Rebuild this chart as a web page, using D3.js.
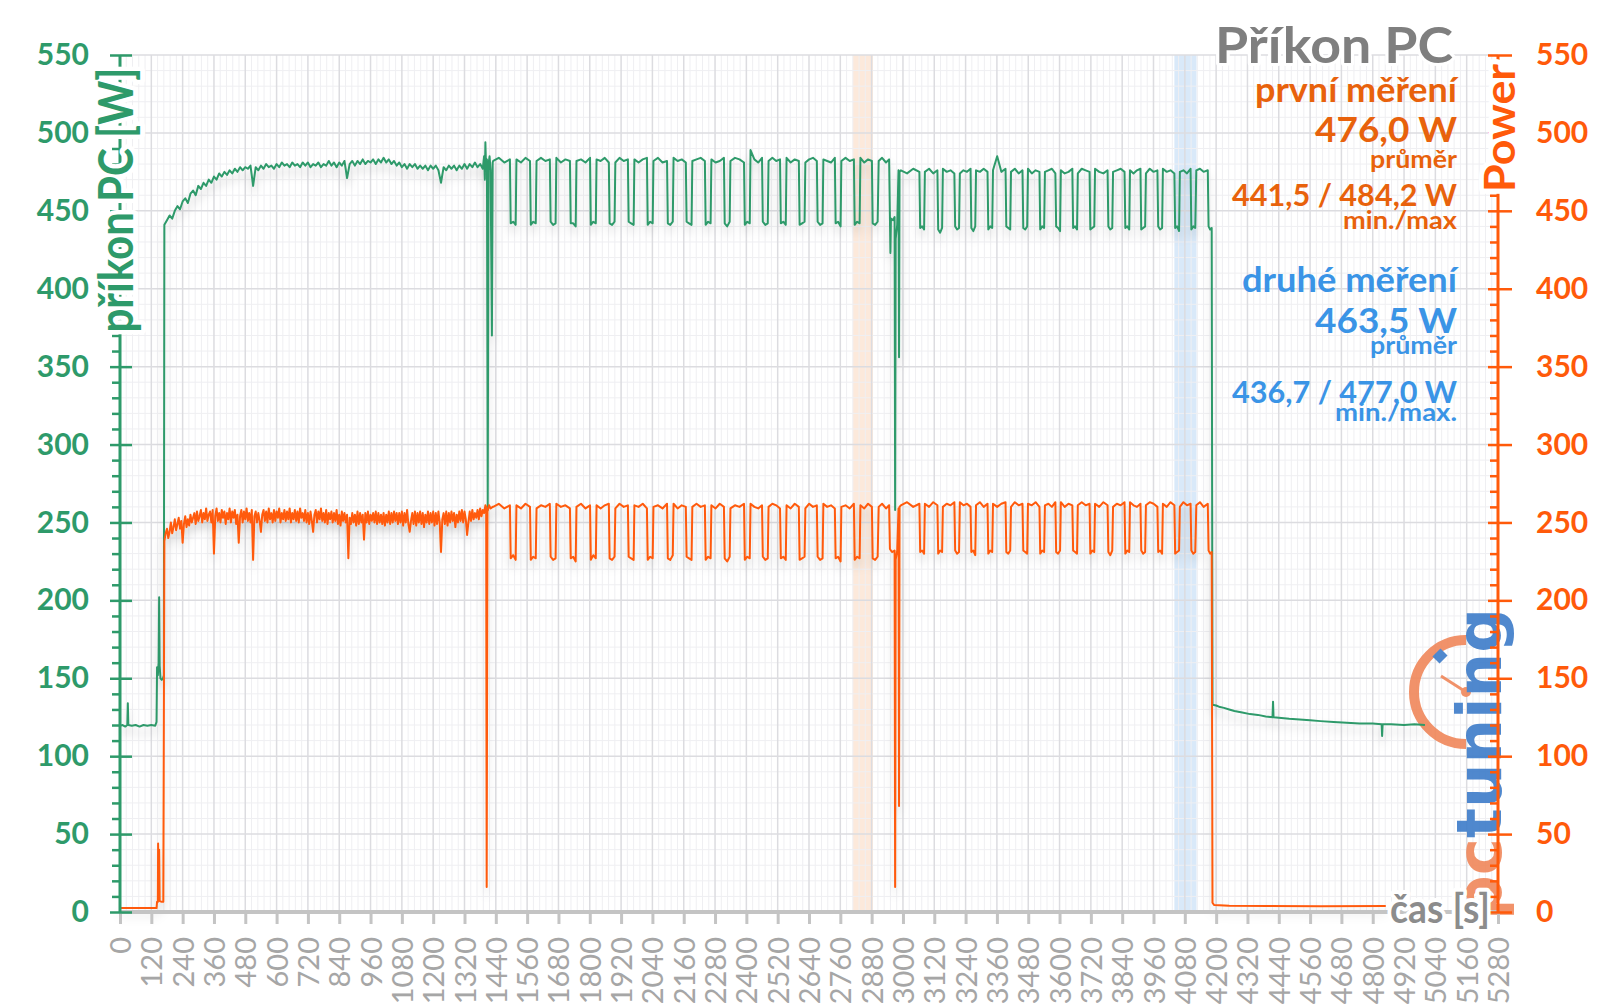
<!DOCTYPE html>
<html><head><meta charset="utf-8">
<script src="https://cdn.jsdelivr.net/npm/d3@7"></script>
<style>body{margin:0;background:#fff;}svg{display:block;}</style>
</head><body>
<svg id="c" width="1600" height="1008"></svg>
<script>
// ---------------- DATA ----------------
const xTickValues = [0,120,240,360,480,600,720,840,960,1080,1200,1320,1440,1560,1680,1800,1920,2040,2160,2280,2400,2520,2640,2760,2880,3000,3120,3240,3360,3480,3600,3720,3840,3960,4080,4200,4320,4440,4560,4680,4800,4920,5040,5160,5280];
const yTickValues = [0,50,100,150,200,250,300,350,400,450,500,550];
const bandFirst = [2808, 2885];
const bandSecond = [4040, 4125];

// idle start [time s, W]
const greenStart = [[0,119.5],[10,120],[20,119],[28,120],[30,134],[32,120],[45,119.5],[60,120],[75,119],[90,120],[105,119.5],[120,120],[135,119.5],[140,122],[142,157],[145,152],[148,160],[150,202],[152,158],[155,150],[160,149],[165,150],[168,152]];
const orangeStart = [[0,2.5],[60,2.5],[140,2.5],[142,6.5],[145,6.5],[146,44],[148,8],[150,40],[152,7],[160,6.5],[166,6.5]];

// warm-up phase, green one reading every 10 s, orange every 5 s, both from 170 s
const warmStart = 170, greenWarmStep = 10, orangeWarmStep = 5;
const greenWarm = [441,444,447,445,450,453,451,456,458,455,
 461,463,460,466,464,468,466,470,468,472,
 470,474,472,475,473,476,474,477,475,478,
 476,478,477,479,466,478,476,479,477,480,
 478,479,477,480,478,481,479,480,478,481,
 479,480,478,481,479,481,478,480,479,481,
 478,480,479,482,479,481,478,481,479,482,
 471,480,482,479,482,480,483,480,482,481,
 483,480,483,481,484,481,483,480,482,479,
 481,478,480,477,480,478,480,477,479,477,
 479,476,479,477,479,476,468,478,476,479,
 477,479,476,479,477,480,477,480,478,481,
 478,480,477];
const orangeWarm = [238,243,246,240,244,250,243,247,252,245,249,253,
 246,251,237,249,254,247,252,248,255,250,253,256,
 249,257,251,254,258,250,256,252,259,251,255,257,
 250,258,230,254,259,251,256,250,258,253,257,249,
 256,252,259,250,257,253,258,249,255,237,254,258,
 250,257,252,259,251,256,250,258,226,254,257,250,
 256,251,244,255,258,251,257,250,259,252,256,250,
 258,251,257,253,259,250,256,252,258,251,257,252,
 259,250,256,252,258,251,257,250,259,253,256,251,
 258,250,256,249,257,251,244,255,258,250,257,252,
 259,251,256,250,258,249,256,252,257,250,256,251,
 258,249,255,248,257,251,256,250,255,227,253,249,
 256,250,255,248,257,249,256,250,255,239,256,250,
 257,249,255,251,256,250,257,249,256,250,255,249,
 256,248,255,250,257,249,256,250,257,251,256,249,
 256,250,257,248,256,250,258,249,244,251,256,249,
 257,248,256,250,257,249,256,247,255,250,257,249,
 256,250,257,248,256,249,257,250,231,252,256,249,
 257,248,256,250,257,251,256,247,255,250,257,251,
 258,250,257,252,242,250,257,251,258,252,256,253,
 258,252,259,254,258,256,261];

// first disturbance
const greenDisturb1 = [[1395,485],[1398,470],[1400,494],[1403,476],[1406,483],[1409,258],[1412,480],[1416,485],[1420,476],[1425,370],[1428,481]];
const orangeDisturb1 = [[1403,260],[1405,16],[1408,257],[1414,261],[1420,259],[1428,260]];

// first cyclic phase
const phase1Start = 1428;
const dipStart1 = [1495,1572,1648,1725,1802,1874,1947,2020,2097,2169,2242,2315,2392,2461,2530,2602,2671,2740,2813,2882];
const dipEnd1   = [1517,1594,1670,1747,1824,1896,1969,2042,2119,2191,2264,2337,2414,2483,2552,2624,2693,2762,2835,2904];
const greenHigh1 = [[482,484,481,483],[483,481,484,482],[482,484,482,483],[484,481,483,482],[482,483,481,484],[483,482,484,481],[481,484,482,483],[483,481,483,484],[482,484,481,482],[484,482,483,481],[482,483,484,482],[483,481,482,484],[482,484,483,481],[489,483,481,484],[482,484,482,483],[484,481,483,482],[481,483,484,482],[483,482,481,484],[482,484,482,483],[484,481,483,482]];
const greenLow1 = [[442,443,441],[441,443,442],[443,441,442],[442,442,440],[441,443,442],[442,441,443],[443,442,441],[441,443,442],[442,441,443],[443,442,441],[441,443,442],[442,440,443],[441,443,442],[443,441,442],[442,443,441],[441,442,443],[443,441,442],[442,443,440],[441,443,442],[442,441,443]];
const orangeHigh1 = [[260,262,259,261],[261,259,262,260],[259,261,260,262],[262,260,261,259],[260,262,259,261],[261,259,261,262],[259,262,260,261],[261,260,262,259],[260,261,259,262],[262,259,261,260],[260,262,260,261],[261,259,262,260],[259,261,260,262],[262,260,259,261],[260,262,261,259],[261,259,262,260],[259,262,260,261],[262,260,261,259],[260,261,259,262],[261,259,262,260]];
const orangeLow1 = [[227,229,226],[226,228,227],[228,226,227],[227,228,225],[226,229,227],[227,226,228],[228,227,226],[226,228,227],[227,226,229],[228,227,226],[226,228,227],[227,225,228],[226,228,227],[228,226,227],[227,228,226],[226,227,228],[228,226,227],[227,228,225],[226,228,227],[227,226,228]];

// transition between phases
const greenTrans = [[2907,482],[2920,484],[2935,481],[2947,483],[2950,446],[2952,423],[2954,445],[2962,444],[2968,446],[2970,258],[2972,432],[2978,441],[2983,476],[2985,356],[2987,475]];
const orangeTrans = [[2907,260],[2920,262],[2935,259],[2947,261],[2950,233],[2958,231],[2968,232],[2970,16],[2972,226],[2978,232],[2983,259],[2985,68],[2987,260]];

// second cyclic phase
const phase2Start = 2990;
const dipStart2 = [3064,3133,3198,3260,3325,3394,3459,3524,3585,3650,3716,3785,3850,3911,3976,4041,4103];
const dipEnd2   = [3082,3151,3216,3278,3343,3412,3477,3542,3603,3668,3734,3803,3868,3929,3994,4059,4121];
const greenHigh2 = [[476,474,477,475],[475,477,474,476],[477,475,476,474],[474,476,475,477],[476,475,477,475],[476,485,475,477],[475,477,474,476],[477,474,476,475],[475,476,477,474],[476,474,475,477],[474,477,476,475],[477,475,474,476],[475,476,477,475],[476,474,476,477],[474,477,475,476],[477,475,476,474],[475,476,474,477]];
const greenLow2 = [[439,440,438],[438,436,439],[440,438,439],[439,437,440],[438,440,439],[440,439,438],[439,438,440],[438,440,439],[440,439,437],[439,440,438],[438,439,440],[440,438,439],[439,440,438],[438,439,440],[440,438,439],[439,440,437],[438,440,439]];
const orangeHigh2 = [[261,263,260,262],[262,260,263,261],[260,262,261,263],[263,261,262,260],[261,263,260,262],[262,260,262,263],[260,263,261,262],[262,261,263,260],[261,262,260,263],[263,260,262,261],[261,263,261,262],[262,260,263,261],[260,262,261,263],[263,261,260,262],[261,263,262,260],[262,260,263,261],[260,263,261,262]];
const orangeLow2 = [[231,232,230],[230,232,231],[232,230,231],[231,232,229],[230,232,231],[231,230,232],[232,231,230],[230,232,231],[231,230,232],[232,231,230],[230,232,231],[231,229,232],[230,232,231],[232,230,231],[231,232,230],[230,231,232],[232,230,231]];

// end of load + idle
const greenEnd = [[4124,476],[4138,477],[4152,475],[4168,476],[4171,440],[4177,438],[4183,439],[4186,133],[4200,132.5],[4215,131.5],[4230,131],[4250,130],[4270,129],[4300,128],[4330,127],[4360,126.5],[4390,125.5],[4416,125],[4418,135],[4420,125],[4450,124.5],[4480,124],[4520,123.5],[4560,123],[4600,122.5],[4650,122],[4700,121.5],[4750,121],[4800,121],[4834,120.5],[4836,113],[4838,120.5],[4870,120.5],[4920,120],[4960,120.5],[5000,120]];
const orangeEnd = [[4124,261],[4138,263],[4152,260],[4168,262],[4171,232],[4177,230],[4183,231],[4186,6],[4192,4.5],[4250,4],[4400,3.8],[4600,3.7],[4850,3.8]];

// summary texts
const statsFirst = {title:"první měření", avg:"476,0 W", avgLabel:"průměr", range:"441,5 / 484,2 W", rangeLabel:"min./max"};
const statsSecond = {title:"druhé měření", avg:"463,5 W", avgLabel:"průměr", range:"436,7 / 477,0 W", rangeLabel:"min./max."};

// ---------------- BUILD ----------------
function fromSteps(start, step, vals){ return vals.map((v,i)=>[start+i*step, v]); }
function cycles(phaseStart, starts, ends, highs, lows){
  const pts = []; let t0 = phaseStart;
  starts.forEach((s,i)=>{
    const hv = highs[i], a = t0+2, b = s-1;
    hv.forEach((v,j)=>pts.push([a+(b-a)*j/(hv.length-1), v]));
    const lv = lows[i], c = s+2, d = ends[i]-1;
    lv.forEach((v,j)=>pts.push([c+(d-c)*j/(lv.length-1), v]));
    t0 = ends[i];
  });
  return pts;
}
const greenSeries = [].concat(greenStart, fromSteps(warmStart,greenWarmStep,greenWarm), greenDisturb1,
  cycles(phase1Start,dipStart1,dipEnd1,greenHigh1,greenLow1), greenTrans,
  cycles(phase2Start,dipStart2,dipEnd2,greenHigh2,greenLow2), greenEnd);
const orangeSeries = [].concat(orangeStart, fromSteps(warmStart,orangeWarmStep,orangeWarm), orangeDisturb1,
  cycles(phase1Start,dipStart1,dipEnd1,orangeHigh1,orangeLow1), orangeTrans,
  cycles(phase2Start,dipStart2,dipEnd2,orangeHigh2,orangeLow2), orangeEnd);

const GREEN="#2e9a6a", ORANGE="#ff5a0a", ORANGE_T="#e8620c", BLUE="#3a94e6", GREY="#7f7f7f";
const FONT="Lato, 'Open Sans', sans-serif";

const svg = d3.select("#c");
const x = d3.scaleLinear().domain([0,5280]).range([120,1498]);
const y = d3.scaleLinear().domain([0,550]).range([912,55]);

const defs = svg.append("defs");
const flt = defs.append("filter").attr("id","sh").attr("x","-5%").attr("y","-10%").attr("width","110%").attr("height","130%");
flt.append("feDropShadow").attr("dx",0).attr("dy",7).attr("stdDeviation",5).attr("flood-color","#000").attr("flood-opacity",0.17);

// bands
svg.append("rect").attr("x",x(bandFirst[0])).attr("width",x(bandFirst[1])-x(bandFirst[0]))
  .attr("y",y(550)).attr("height",y(0)-y(550)).attr("fill","#fbe2cf").attr("opacity",0.75);
svg.append("rect").attr("x",x(bandSecond[0])).attr("width",x(bandSecond[1])-x(bandSecond[0]))
  .attr("y",y(550)).attr("height",y(0)-y(550)).attr("fill","#cfe3f8").attr("opacity",0.8);

// grid
const grid = svg.append("g");
const minorX = d3.range(0,5281,24).filter(t=>t%120!==0);
const minorY = d3.range(0,551,10).filter(v=>v%50!==0);
grid.selectAll(".gvx").data(minorX).join("line").attr("x1",d=>x(d)).attr("x2",d=>x(d)).attr("y1",y(550)).attr("y2",y(0)).attr("stroke","#efeff2").attr("stroke-width",1);
grid.selectAll(".gvy").data(minorY).join("line").attr("x1",x(0)).attr("x2",x(5280)).attr("y1",d=>y(d)).attr("y2",d=>y(d)).attr("stroke","#efeff2").attr("stroke-width",1);
grid.selectAll(".gmx").data(xTickValues).join("line").attr("x1",d=>x(d)).attr("x2",d=>x(d)).attr("y1",y(550)).attr("y2",y(0)).attr("stroke","#dcdce0").attr("stroke-width",1.5);
grid.selectAll(".gmy").data(yTickValues).join("line").attr("x1",x(0)).attr("x2",x(5280)).attr("y1",d=>y(d)).attr("y2",d=>y(d)).attr("stroke","#dcdce0").attr("stroke-width",1.5);

// logo (decoration, under axes)
const logo = svg.append("g").attr("opacity",0.9);
logo.append("path").attr("d","M1466,640 A52,52 0 0 0 1466,744").attr("fill","none").attr("stroke","#f0875a").attr("stroke-width",10);
logo.append("path").attr("d","M1436,660 L1444,652").attr("stroke","#3d7cc9").attr("stroke-width",10);
logo.append("line").attr("x1",1466).attr("y1",692).attr("x2",1441).attr("y2",676).attr("stroke","#f0875a").attr("stroke-width",3);
logo.append("circle").attr("cx",1466).attr("cy",692).attr("r",5).attr("fill","#f0875a");
const lt = logo.append("text").attr("transform","translate(1501,920) rotate(-90)")
  .attr("font-family","'DejaVu Sans', sans-serif").attr("font-weight",700).attr("font-size",62)
  .attr("textLength",312).attr("lengthAdjust","spacingAndGlyphs");
lt.append("tspan").attr("fill","#f0875a").text("pc");
lt.append("tspan").attr("fill","#3d7cc9").text("tuning");

// lines
const line = d3.line().x(d=>x(d[0])).y(d=>y(d[1]));
svg.append("path").datum(greenSeries).attr("d",line).attr("fill","none").attr("stroke",GREEN).attr("stroke-width",2).attr("stroke-linejoin","round").attr("filter","url(#sh)");
svg.append("path").datum(orangeSeries).attr("d",line).attr("fill","none").attr("stroke",ORANGE).attr("stroke-width",2).attr("stroke-linejoin","round").attr("filter","url(#sh)");

// x axis
const xg = svg.append("g").attr("transform",`translate(0,${y(0)})`);
xg.call(d3.axisBottom(x).tickValues(xTickValues).tickSize(12).tickFormat(""));
xg.select(".domain").remove();
xg.selectAll(".tick line").attr("stroke","#c4c4c4").attr("stroke-width",3);
svg.append("line").attr("x1",x(0)).attr("x2",x(5280)).attr("y1",y(0)).attr("y2",y(0)).attr("stroke","#c4c4c4").attr("stroke-width",4);
svg.append("g").selectAll("text").data(xTickValues).join("text")
  .attr("transform",d=>`translate(${x(d)+11},937) rotate(-90)`)
  .attr("text-anchor","end").attr("font-family",FONT).attr("font-size",29).attr("fill","#a6a6a6")
  .text(d=>d);

// left axis
const lg = svg.append("g").attr("transform",`translate(${x(0)},0)`);
lg.append("line").attr("y1",y(0)).attr("y2",y(550)).attr("stroke",GREEN).attr("stroke-width",3);
lg.append("g").call(d3.axisLeft(y).tickValues(minorY).tickSize(8).tickFormat(""));
lg.append("g").call(d3.axisRight(y).tickValues(yTickValues).tickSize(12).tickFormat(""));
lg.append("g").attr("class","lab").call(d3.axisLeft(y).tickValues(yTickValues).tickSize(10).tickPadding(21));
lg.selectAll(".domain").remove();
lg.selectAll(".tick line").attr("stroke",GREEN).attr("stroke-width",2.5);
lg.selectAll(".lab text").attr("font-family",FONT).attr("font-weight",700).attr("font-size",30).attr("fill",GREEN);

// right axis
const rg = svg.append("g").attr("transform",`translate(${x(5280)},0)`);
rg.append("line").attr("y1",y(0)).attr("y2",y(550)).attr("stroke",ORANGE).attr("stroke-width",3);
rg.append("g").call(d3.axisLeft(y).tickValues(minorY).tickSize(8).tickFormat(""));
rg.append("g").call(d3.axisLeft(y).tickValues(yTickValues).tickSize(10).tickFormat(""));
rg.append("g").attr("class","lab").call(d3.axisRight(y).tickValues(yTickValues).tickSize(14).tickPadding(24));
rg.selectAll(".domain").remove();
rg.selectAll(".tick line").attr("stroke",ORANGE).attr("stroke-width",2.5);
rg.selectAll(".lab text").attr("font-family",FONT).attr("font-weight",700).attr("font-size",30).attr("fill",ORANGE).attr("text-anchor","start");

// axis titles
function halo(sel,w){ return sel.attr("stroke","#fff").attr("stroke-width",w).attr("paint-order","stroke").attr("stroke-linejoin","round"); }
halo(svg.append("text").attr("transform","translate(133,200) rotate(-90)").attr("text-anchor","middle")
  .attr("font-family",FONT).attr("font-weight",700).attr("font-size",48).attr("fill",GREEN)
  .attr("textLength",265).attr("lengthAdjust","spacingAndGlyphs").text("příkon PC [W]"),10);
halo(svg.append("text").attr("transform","translate(1515,128) rotate(-90)").attr("text-anchor","middle")
  .attr("font-family",FONT).attr("font-weight",700).attr("font-size",42).attr("fill",ORANGE)
  .attr("textLength",128).attr("lengthAdjust","spacingAndGlyphs").text("Power"),10);
halo(svg.append("text").attr("x",1390).attr("y",923)
  .attr("font-family",FONT).attr("font-weight",700).attr("font-size",40).attr("fill","#8c8c8c")
  .attr("textLength",100).attr("lengthAdjust","spacingAndGlyphs").text("čas [s]"),8);

// title + stats
halo(svg.append("text").attr("x",1453).attr("y",63).attr("text-anchor","end")
  .attr("font-family",FONT).attr("font-weight",700).attr("font-size",50).attr("fill",GREY)
  .attr("textLength",238).attr("lengthAdjust","spacingAndGlyphs").text("Příkon PC"),6);

function stat(txt,yy,size,len,color){
  svg.append("text").attr("x",1457).attr("y",yy).attr("text-anchor","end")
    .attr("font-family",FONT).attr("font-weight",700).attr("font-size",size).attr("fill",color)
    .attr("textLength",len).attr("lengthAdjust","spacingAndGlyphs").text(txt);
}
stat(statsFirst.title,102,34,202,ORANGE_T);
stat(statsFirst.avg,142,35,142,ORANGE_T);
stat(statsFirst.avgLabel,168,24,87,ORANGE_T);
stat(statsFirst.range,206,30,225,ORANGE_T);
stat(statsFirst.rangeLabel,229,24,114,ORANGE_T);
stat(statsSecond.title,292,34,215,BLUE);
stat(statsSecond.avg,333,35,142,BLUE);
stat(statsSecond.avgLabel,354,24,87,BLUE);
stat(statsSecond.range,403,30,225,BLUE);
stat(statsSecond.rangeLabel,421,24,122,BLUE);
</script>
</body></html>
